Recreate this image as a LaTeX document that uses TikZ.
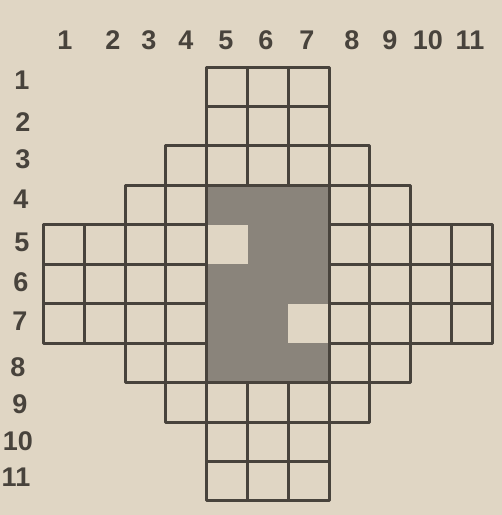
\documentclass[tikz,border=0pt]{standalone}
\usepackage{fontspec}
\setmainfont{Liberation Sans}
\definecolor{paper}{RGB}{224,214,196}
\definecolor{ink}{RGB}{72,67,60}
\definecolor{darkfill}{RGB}{138,132,123}
\begin{document}
\begin{tikzpicture}[x=1pt,y=-1pt,
  cell/.style={draw=ink,line width=3pt,line join=round},
  lab/.style={font=\bfseries\fontsize{27}{27}\selectfont,text=ink,inner sep=0pt}]
\fill[paper] (0,0) rectangle (502,515);
\useasboundingbox (0,0) rectangle (502,515);
\def\cw{40.8}\def\ch{39.45}\def\xo{43.5}\def\yo{67}
% grid cells
\foreach \r/\a/\b in {1/5/7,2/5/7,3/4/8,4/3/9,5/1/11,6/1/11,7/1/11,8/3/9,9/4/8,10/5/7,11/5/7}
  \foreach \c in {\a,...,\b}
    \draw[cell] ({\xo+(\c-1)*\cw},{\yo+(\r-1)*\ch}) rectangle +(\cw,\ch);
% shaded block (covers its inner lines)
\fill[darkfill] ({\xo+4*\cw+1.5},{\yo+3*\ch+1.5}) rectangle ({\xo+7*\cw-1.5},{\yo+8*\ch-1.5});
\fill[paper] ({\xo+4*\cw+1.5},{\yo+4*\ch}) rectangle ({\xo+5*\cw},{\yo+5*\ch});
\fill[paper] ({\xo+6*\cw},{\yo+6*\ch}) rectangle ({\xo+7*\cw-1.5},{\yo+7*\ch});
% column labels
\foreach \n/\x in {1/65,2/113,3/149,4/186,5/226,6/266,7/307,8/352,9/390,10/428,11/470}
  \node[lab] (col\n) at (\x,40) {\n};
% row labels
\foreach \n/\y/\x in {1/80/22,2/122/23,3/159/23,4/199/21,5/242/22,6/282/21,7/321/20,8/367/18,9/404/20,10/441/18,11/477/16}
  \node[lab] (row\n) at (\x,\y) {\n};
\end{tikzpicture}
\end{document}
